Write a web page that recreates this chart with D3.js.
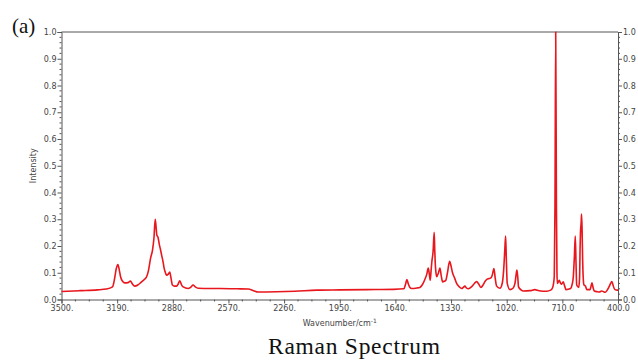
<!DOCTYPE html>
<html>
<head>
<meta charset="utf-8">
<script src="https://cdn.jsdelivr.net/npm/d3@7"></script>
<style>
  body { margin: 0; background: #fff; }
  svg { display: block; }
  .axis text { font-family: "DejaVu Sans", Verdana, sans-serif; font-size: 8px; fill: #444; }
  .axis path, .axis line { stroke: #555; }
</style>
</head>
<body>
<svg id="chart" width="638" height="360"></svg>
<script>
// spectrum (wavenumber in cm-1, normalised intensity)
const wavenumbers = [
  3500, 3400, 3300, 3250, 3216, 3205, 3195, 3186, 3178, 3171, 3160, 3147, 3130, 3116, 3105, 3092,
  3075, 3054, 3040, 3026, 3015, 3004, 2993, 2985, 2978, 2973, 2969, 2962, 2955, 2948, 2942, 2937,
  2932, 2928, 2920, 2915, 2905, 2897, 2890, 2882, 2870, 2859, 2850, 2841, 2832, 2822, 2795, 2780,
  2767, 2755, 2739, 2674, 2618, 2520, 2460, 2430, 2405, 2300, 2200, 2077, 1950, 1800, 1650, 1593,
  1583, 1576, 1568, 1559, 1550, 1520, 1504, 1490, 1476, 1465, 1457, 1451, 1446, 1441, 1437, 1430,
  1424, 1421, 1418, 1414, 1410, 1400, 1392, 1385, 1377, 1368, 1359, 1350, 1338, 1330, 1323, 1310,
  1299, 1285, 1271, 1262, 1253, 1244, 1234, 1215, 1200, 1188, 1176, 1164, 1150, 1140, 1129, 1120,
  1110, 1100, 1091, 1084, 1076, 1058, 1045, 1037, 1031, 1026, 1022, 1017, 1002, 985, 974, 968,
  963, 958, 954, 940, 928, 890, 863, 840, 798, 775, 764, 755, 751, 747, 743, 740,
  738, 727, 721, 716, 705, 697, 690, 664, 656, 649, 643, 638, 634, 630, 619, 614,
  611, 609, 605, 603, 600, 597, 594, 590, 581, 574, 556, 550, 545, 539, 532, 515,
  504, 491, 480, 472, 460, 448, 441, 435, 430, 426, 417, 404, 400
];
const intensities = [
  0.030, 0.033, 0.036, 0.039, 0.047, 0.075, 0.115, 0.131, 0.110, 0.085, 0.068, 0.062, 0.063, 0.069, 0.058, 0.050,
  0.054, 0.066, 0.074, 0.085, 0.110, 0.154, 0.185, 0.230, 0.300, 0.270, 0.241, 0.232, 0.205, 0.185, 0.165, 0.150,
  0.132, 0.116, 0.098, 0.091, 0.095, 0.103, 0.080, 0.054, 0.050, 0.050, 0.058, 0.070, 0.056, 0.047, 0.041, 0.046,
  0.054, 0.047, 0.042, 0.041, 0.041, 0.040, 0.039, 0.033, 0.028, 0.029, 0.031, 0.035, 0.036, 0.037, 0.038, 0.040,
  0.058, 0.075, 0.058, 0.045, 0.041, 0.043, 0.045, 0.055, 0.075, 0.095, 0.118, 0.095, 0.072, 0.110, 0.141, 0.180,
  0.251, 0.190, 0.135, 0.100, 0.085, 0.100, 0.118, 0.090, 0.066, 0.068, 0.072, 0.100, 0.143, 0.125, 0.103, 0.080,
  0.060, 0.048, 0.041, 0.045, 0.050, 0.043, 0.040, 0.048, 0.060, 0.067, 0.058, 0.045, 0.056, 0.068, 0.076, 0.078,
  0.080, 0.092, 0.116, 0.080, 0.050, 0.042, 0.060, 0.110, 0.180, 0.237, 0.150, 0.060, 0.037, 0.042, 0.060, 0.090,
  0.110, 0.080, 0.047, 0.036, 0.032, 0.033, 0.037, 0.033, 0.031, 0.035, 0.045, 0.085, 0.350, 1.000, 0.350, 0.100,
  0.060, 0.072, 0.062, 0.057, 0.066, 0.050, 0.037, 0.041, 0.055, 0.085, 0.160, 0.237, 0.140, 0.054, 0.045, 0.080,
  0.200, 0.250, 0.290, 0.319, 0.260, 0.150, 0.085, 0.055, 0.050, 0.037, 0.037, 0.050, 0.062, 0.045, 0.032, 0.029,
  0.028, 0.032, 0.029, 0.027, 0.035, 0.050, 0.060, 0.067, 0.060, 0.050, 0.037, 0.035, 0.035
];

const xMajor = [3500, 3190, 2880, 2570, 2260, 1950, 1640, 1330, 1020, 710, 400];
const xTickLabels = ["3500.", "3190.", "2880.", "2570.", "2260.", "1950.", "1640.", "1330.", "1020.", "710.0", "400.0"];
const yMajor = [0, 0.1, 0.2, 0.3, 0.4, 0.5, 0.6, 0.7, 0.8, 0.9, 1.0];
const yTickLabels = ["0.0", "0.1", "0.2", "0.3", "0.4", "0.5", "0.6", "0.7", "0.8", "0.9", "1.0"];

const svg = d3.select('#chart');
const mLeft = 61.5, mRight = 618, mTop = 32, mBottom = 299.5;

const x = d3.scaleLinear().domain([3500, 400]).range([mLeft, mRight]);
const y = d3.scaleLinear().domain([0, 1]).range([mBottom, mTop]);

// minor ticks: 4 steps per x interval, 5 per y interval
const xMinor = d3.range(0, 41).map(i => 3500 - i * 77.5).filter((d, i) => i % 4 !== 0);
const yMinor = d3.range(0, 51).map(i => i * 0.02).filter((d, i) => i % 5 !== 0);

// frame top line
svg.append('line')
    .attr('x1', mLeft).attr('x2', mRight)
    .attr('y1', mTop).attr('y2', mTop)
    .attr('stroke', '#555');

const xAxis = svg.append('g').attr('class', 'axis')
    .attr('transform', `translate(0,${mBottom})`)
    .call(d3.axisBottom(x).tickValues(xMajor).tickSizeOuter(0).tickSize(4).tickPadding(2)
        .tickFormat((d, i) => xTickLabels[i]));
xAxis.append('g').selectAll('line').data(xMinor).enter().append('line')
    .attr('x1', d => x(d)).attr('x2', d => x(d))
    .attr('y1', 0).attr('y2', 2).attr('stroke', '#555');

const yAxisL = svg.append('g').attr('class', 'axis')
    .attr('transform', `translate(${mLeft},0)`)
    .call(d3.axisLeft(y).tickValues(yMajor).tickSizeOuter(0).tickSize(4).tickPadding(1)
        .tickFormat((d, i) => yTickLabels[i]));
yAxisL.append('g').selectAll('line').data(yMinor).enter().append('line')
    .attr('y1', d => y(d)).attr('y2', d => y(d))
    .attr('x1', 0).attr('x2', -2).attr('stroke', '#555');

const yAxisR = svg.append('g').attr('class', 'axis')
    .attr('transform', `translate(${mRight},0)`)
    .call(d3.axisRight(y).tickValues(yMajor).tickSizeOuter(0).tickSize(4).tickPadding(1)
        .tickFormat((d, i) => yTickLabels[i]));
yAxisR.append('g').selectAll('line').data(yMinor).enter().append('line')
    .attr('y1', d => y(d)).attr('y2', d => y(d))
    .attr('x1', 0).attr('x2', 2).attr('stroke', '#555');

// the spectrum
const points = wavenumbers.map((w, i) => [w, intensities[i]]);
const line = d3.line()
    .x(d => x(d[0]))
    .y(d => y(d[1]))
    .curve(d3.curveMonotoneX);

svg.append('path')
    .datum(points)
    .attr('fill', 'none')
    .attr('stroke', '#e8161d')
    .attr('stroke-width', 1.6)
    .attr('stroke-linejoin', 'round')
    .attr('d', line);

// axis titles
svg.append('text')
    .attr('transform', `translate(36,${(mTop + mBottom) / 2}) rotate(-90)`)
    .attr('text-anchor', 'middle')
    .style('font-family', '"DejaVu Sans", Verdana, sans-serif')
    .style('font-size', '8px')
    .style('fill', '#444')
    .text('Intensity');

const xt = svg.append('text')
    .attr('x', (mLeft + mRight) / 2)
    .attr('y', 326)
    .attr('text-anchor', 'middle')
    .style('font-family', '"DejaVu Sans", Verdana, sans-serif')
    .style('font-size', '8px')
    .style('fill', '#444');
xt.append('tspan').text('Wavenumber/cm');
xt.append('tspan').attr('dy', -3).style('font-size', '6px').text('-1');

// caption and panel letter
svg.append('text')
    .attr('x', 354)
    .attr('y', 354)
    .attr('text-anchor', 'middle')
    .attr('textLength', 172)
    .style('font-family', '"Liberation Serif", "Times New Roman", serif')
    .style('font-size', '23.5px')
    .style('fill', '#111')
    .text('Raman Spectrum');

svg.append('text')
    .attr('x', 12)
    .attr('y', 33)
    .style('font-family', '"Liberation Serif", "Times New Roman", serif')
    .style('font-size', '21px')
    .style('fill', '#111')
    .text('(a)');
</script>
</body>
</html>
